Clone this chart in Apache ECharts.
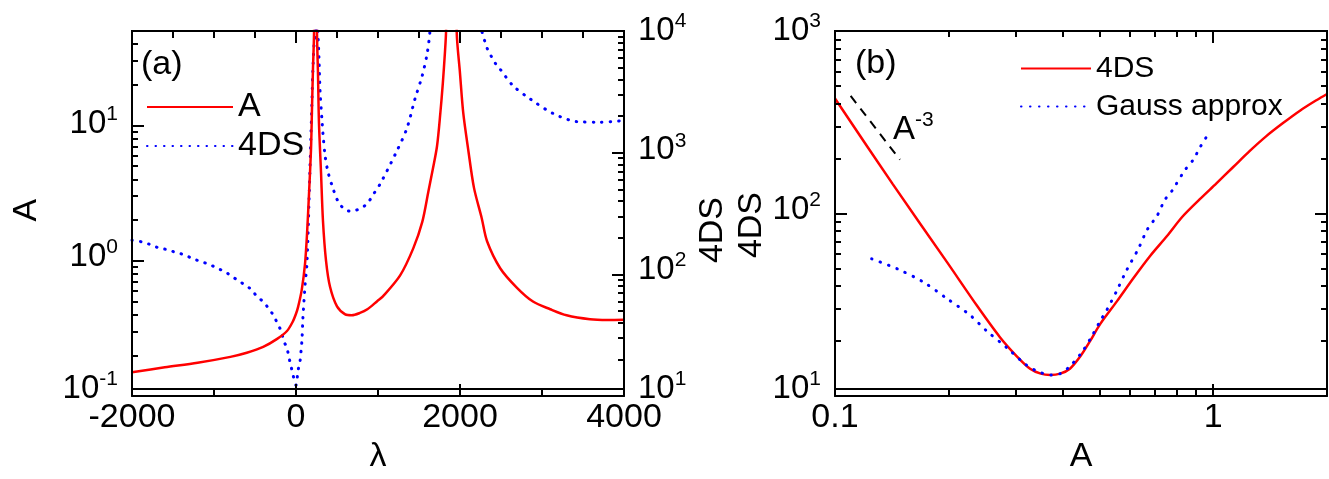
<!DOCTYPE html>
<html><head><meta charset="utf-8">
<script src="https://cdn.jsdelivr.net/npm/echarts@6/dist/echarts.min.js"></script>
<style>html,body{margin:0;padding:0;background:#fff}#wrap{position:relative;width:1329px;height:479px}
#c,#t{position:absolute;left:0;top:0;width:1329px;height:479px}#t{pointer-events:none}</style>
</head><body><div id="wrap"><div id="c"></div><div id="t"></div></div>
<script>
// ---------- Panel (a): A(λ) on left log axis, 4DS(λ) on right log axis ----------
const lambdaRed = [-2000,-1600,-1200,-800,-600,-400,-230,-110,-40,0,25,70,110,135,160,183,195,207,220,238,
  256,268,280,305,329,366,415,500,600,680,780,870,990,1060,1270,1430,1540,1615,1670,1720,1760,1790,1817,1830,1890,
  1960,2000,2040,2100,2170,2265,2330,2490,2695,2890,3100,3300,3585,3800,4000];
const ampRed = [0.134,0.146,0.158,0.175,0.188,0.208,0.239,0.274,0.322,0.37,0.415,0.56,0.88,1.5,3.1,6.4,13,26,49,10000,
  49,24,10.2,4.3,1.85,0.93,0.59,0.42,0.366,0.36,0.375,0.40,0.46,0.5,0.72,1.15,1.82,3.1,4.6,6.8,12,20,35,50,10000,
  49,24,12,6.4,3.3,1.94,1.3,0.815,0.58,0.457,0.40,0.36,0.336,0.332,0.333];

const lambdaBlue = [-2000,-1880,-1770,-1670,-1560,-1460,-1370,-1260,-1160,-1060,-960,-850,-790,-710,-620,-540,-480,-400,
  -340,-280,-230,-185,-145,-110,-85,-60,-35,0,25,50,62,73,85,110,134,160,175,190,205,222,244,256,268,280,293,317,329,354,
  390,451,512,598,683,781,866,939,1024,1232,1354,1451,1537,1598,1634,1950,2268,2305,2341,2390,2439,2488,2646,2854,
  3134,3427,3707,4000];
const dsBlue = [177,171,162,152,147,139,134,124,117,111,103,95,88,82,74,68,60,54,
  48,42,36,31,25,22,18.3,15.5,13,10.8,14.3,17.3,21,26,40,73,115,400,900,2000,4500,8000,10000,1000000,10000,6000,3160,1780,1380,910,
  660,480,375,318,309,326,356,424,520,995,1540,2700,4170,6400,10000,10000000,10000,8100,6900,6000,5260,4800,3480,2700,
  2040,1740,1720,1780];

// ---------- Panel (b): 4DS(A) and Gauss approx ----------
const ampB = [0.100,0.142,0.198,0.238,0.273,0.303,0.328,0.350,0.371,0.394,0.418,0.445,0.473,0.502,0.557,0.615,0.682,
  0.755,0.83,0.922,1.02,1.13,1.25,1.38,1.53,1.70,1.88,2.0];
const dsB = [420,140,51,29,19.5,15.2,13,12.2,12.0,12.2,13.0,15.2,18.6,23,31,41.6,55.6,
  71.6,92,115,141,174,214,258,306,360,412,445];
const ampGauss = [0.125,0.146,0.171,0.197,0.227,0.252,0.284,0.321,0.345,0.371,0.394,0.418,0.45,0.478,0.502,0.524,0.557,
  0.59,0.634,0.67,0.711,0.745,0.778,0.84,0.886,0.922,0.962];
const gaussB = [53.4,47,39.7,32.2,26,21.1,17.1,13.6,12.5,12.0,12.2,13.4,16.1,19.8,23.9,27.8,35.7,
  46,60.7,78,93,114,128,166,191,223,258];
// A^-3 guide segment
const slopeA = [0.110,0.1485];
const slopeV = [434,191];

// axis ranges / tick steps
const xA = [-2000, 4000], xAMajor = 2000, xATopStep = 500;
const yALeft = [0.1, 50], yARight = [10, 10000];
const xB = [0.1, 2], yB = [10, 1000];
const minorMultipliers = [2, 3, 4, 5, 6, 7, 8, 9];

const FONT = "'Liberation Sans', Arial, Helvetica, sans-serif";
const RED = '#ff0000', BLUE = '#0000ff';
const GRIDS = [
  { left: 132, top: 31, width: 492, height: 365 },
  { left: 835, top: 31, width: 492, height: 365 }
];

function zip(a, b) { return a.map((v, i) => [v, b[i]]); }
function powLabel(v) {
  const e = Math.log10(v), r = Math.round(e);
  if (Math.abs(e - r) > 1e-6) return '';
  return '10{s|' + r + '}';
}
function plainLogLabel(v) {
  const e = Math.log10(v), r = Math.round(e);
  if (Math.abs(e - r) > 1e-6) return '';
  return String(Number(Math.pow(10, r).toPrecision(6)));
}

const labelBase = { color: '#000', fontFamily: FONT, fontSize: 33, lineHeight: 40,
  rich: { s: { fontSize: 21, fontFamily: FONT, color: '#000', verticalAlign: 'top' } } };
const hidden = { axisLine: { show: false, onZero: false }, axisTick: { show: false }, splitLine: { show: false }, minorTick: { show: false } };
const nameStyle = { fontSize: 34, fontFamily: FONT, color: '#000' };

const dotA = { color: BLUE, width: 3, type: [0.5, 8], cap: 'round' };
const dotB = { color: BLUE, width: 3, type: [0.5, 8.5], cap: 'round' };
const legendNoSymbol = { color: 'rgba(0,0,0,0)', borderWidth: 0, opacity: 0 };

const option = {
  animation: false,
  backgroundColor: '#fff',
  grid: GRIDS.map(g => Object.assign({ show: true, borderColor: '#000', borderWidth: 2, backgroundColor: 'transparent' }, g)),
  xAxis: [
    Object.assign({ type: 'value', gridIndex: 0, position: 'bottom', min: xA[0], max: xA[1], interval: xAMajor,
      name: 'λ', nameLocation: 'middle', nameGap: 42, nameTextStyle: nameStyle,
      axisLabel: { color: '#000', fontFamily: FONT, fontSize: 34, margin: 12, formatter: v => String(v) } }, hidden),
    Object.assign({ type: 'log', logBase: 10, gridIndex: 1, position: 'bottom', min: xB[0], max: xB[1],
      name: 'A', nameLocation: 'middle', nameGap: 41, nameTextStyle: nameStyle,
      axisLabel: { color: '#000', fontFamily: FONT, fontSize: 34, margin: 12, formatter: plainLogLabel, showMaxLabel: false } }, hidden)
  ],
  yAxis: [
    Object.assign({ type: 'log', logBase: 10, gridIndex: 0, min: yALeft[0], max: yALeft[1], position: 'left',
      name: 'A', nameLocation: 'middle', nameRotate: 90, nameGap: 88, nameTextStyle: nameStyle,
      axisLabel: Object.assign({ margin: 14, formatter: powLabel, showMaxLabel: false }, labelBase) }, hidden),
    Object.assign({ type: 'log', logBase: 10, gridIndex: 0, min: yARight[0], max: yARight[1], position: 'right',
      name: '4DS', nameLocation: 'middle', nameRotate: 90, nameGap: 72,
      nameTextStyle: Object.assign({ padding: [0, 40, 0, 0] }, nameStyle),
      axisLabel: Object.assign({ margin: 14, formatter: powLabel }, labelBase) }, hidden),
    Object.assign({ type: 'log', logBase: 10, gridIndex: 1, min: yB[0], max: yB[1], position: 'left',
      name: '4DS', nameLocation: 'middle', nameRotate: 90, nameGap: 63,
      nameTextStyle: Object.assign({ padding: [0, 30, 0, 0] }, nameStyle),
      axisLabel: Object.assign({ margin: 14, formatter: powLabel }, labelBase) }, hidden)
  ],
  legend: [
    { data: ['A', '4DS'], orient: 'vertical', left: 146, top: 90, padding: 0, itemWidth: 86, itemHeight: 14, itemGap: 5,
      selectedMode: false, itemStyle: legendNoSymbol, textStyle: { fontSize: 34, fontFamily: FONT, color: '#000', lineHeight: 34 } },
    { data: ['4DS (b)', 'Gauss approx'], orient: 'vertical', left: 1020, top: 52, padding: 0, itemWidth: 70, itemHeight: 14, itemGap: 5,
      selectedMode: false, itemStyle: legendNoSymbol, formatter: n => n === '4DS (b)' ? '4DS' : n,
      textStyle: { fontSize: 30, fontFamily: FONT, color: '#000', lineHeight: 33 } }
  ],
  graphic: [
    { type: 'text', x: 141, y: 65, style: { text: '(a)', fontSize: 34, fontFamily: FONT, fill: '#000', verticalAlign: 'middle' } },
    { type: 'text', x: 855, y: 64, style: { text: '(b)', fontSize: 34, fontFamily: FONT, fill: '#000', verticalAlign: 'middle' } },
    { type: 'text', x: 893, y: 130, style: { text: '{a|A}{s|-3}', verticalAlign: 'middle',
      rich: { a: { fontSize: 33, fontFamily: FONT, fill: '#000', lineHeight: 40 }, s: { fontSize: 21, fontFamily: FONT, fill: '#000', verticalAlign: 'top' } } } }
  ],
  series: [
    { name: 'A', type: 'line', xAxisIndex: 0, yAxisIndex: 0, data: zip(lambdaRed, ampRed), symbol: 'none',
      smooth: 0.3, lineStyle: { color: RED, width: 2.5 }, itemStyle: { color: RED }, z: 3 },
    { name: '4DS', type: 'line', xAxisIndex: 0, yAxisIndex: 1, data: zip(lambdaBlue, dsBlue), symbol: 'none',
      smooth: 0.3, lineStyle: dotA, itemStyle: { color: BLUE }, z: 2 },
    { name: '4DS (b)', type: 'line', xAxisIndex: 1, yAxisIndex: 2, data: zip(ampB, dsB), symbol: 'none', smooth: 0.3,
      lineStyle: { color: RED, width: 2.5 }, itemStyle: { color: RED }, z: 2 },
    { name: 'Gauss approx', type: 'line', xAxisIndex: 1, yAxisIndex: 2, data: zip(ampGauss, gaussB), symbol: 'none', smooth: 0.3,
      lineStyle: dotB, itemStyle: { color: BLUE }, z: 3 },
    { name: 'slope', type: 'line', xAxisIndex: 1, yAxisIndex: 2, data: zip(slopeA, slopeV), symbol: 'none',
      lineStyle: { color: '#000', width: 2, type: [9, 7] }, z: 3 }
  ]
};
const chart = echarts.init(document.getElementById('c'), null, { renderer: 'canvas' });
try { chart.setOption(option); } catch (e) { /* keep what was drawn */ }

// ---------- frame and inward tick marks: a transparent overlay chart with the same grids ----------
const TICK_LS = { color: '#000', width: 2 };
function tickOnly(len, frame) {
  return { axisLine: { show: !!frame, onZero: false, lineStyle: TICK_LS }, axisLabel: { show: false }, splitLine: { show: false },
    minorTick: { show: false }, axisTick: { show: true, inside: true, length: len, lineStyle: TICK_LS } };
}
// a helper log axis whose range is divided by m puts its decade ticks at m·10^k of the main axis
function logTickAxes(range, gridIndex, position) {
  const out = [Object.assign({ type: 'log', logBase: 10, gridIndex, position, min: range[0], max: range[1] }, tickOnly(12, true))];
  minorMultipliers.forEach(m => out.push(Object.assign({ type: 'log', logBase: 10, gridIndex, position,
    min: range[0] / m, max: range[1] / m }, tickOnly(6, false))));
  return out;
}
const tickOption = {
  animation: false,
  grid: GRIDS.map(g => Object.assign({ show: false }, g)),
  xAxis: [
    Object.assign({ type: 'value', gridIndex: 0, position: 'bottom', min: xA[0], max: xA[1], interval: xAMajor }, tickOnly(12, true),
      { minorTick: { show: true, splitNumber: 2, length: 7, lineStyle: TICK_LS } }),
    Object.assign({ type: 'value', gridIndex: 0, position: 'top', min: xA[0], max: xA[1], interval: xATopStep }, tickOnly(7, false)),
    Object.assign({ type: 'value', gridIndex: 0, position: 'top', min: xA[0], max: xA[1], interval: xAMajor }, tickOnly(12, true))
  ].concat(logTickAxes(xB, 1, 'bottom'), logTickAxes(xB, 1, 'top')),
  yAxis: [].concat(logTickAxes(yALeft, 0, 'left'), logTickAxes(yARight, 0, 'right'),
    logTickAxes(yB, 1, 'left'), logTickAxes(yB, 1, 'right')),
  series: []
};
const tickChart = echarts.init(document.getElementById('t'), null, { renderer: 'canvas' });
try { tickChart.setOption(tickOption); } catch (e) { /* ignore */ }
</script></body></html>
